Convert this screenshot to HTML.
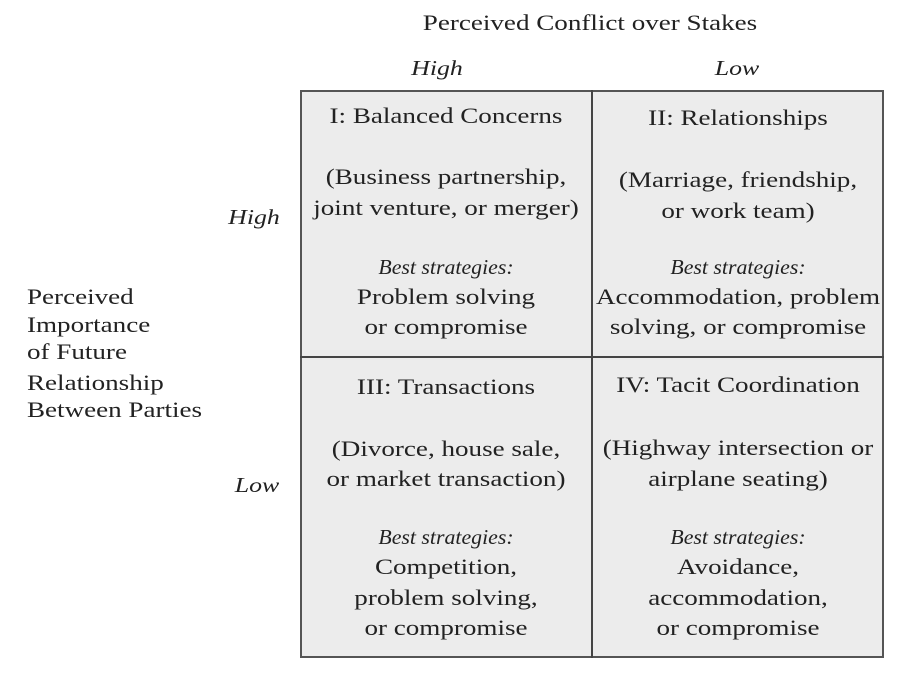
<!DOCTYPE html>
<html><head><style>
body{margin:0;width:908px;height:676px;background:#fff;position:relative;overflow:hidden;font-family:"Liberation Serif",serif;color:#222;}
.t{position:absolute;height:24px;line-height:24px;font-size:22px;white-space:nowrap;transform-origin:left center;transform:scaleX(1.23);}
.c{transform-origin:center center;transform:translateX(-50%) scaleX(1.23);}
.i{font-style:italic;font-size:21px;}
.b{transform:translateX(-50%) scaleX(1.04);}
.box{position:absolute;left:300px;top:90px;width:584px;height:568px;border:2px solid #555;background:#ececec;box-sizing:border-box;}
.v{position:absolute;left:591px;top:90px;width:2px;height:568px;background:#444;}
.h{position:absolute;left:300px;top:356px;width:584px;height:2px;background:#444;}
</style></head><body>
<div class="box"></div><div class="v"></div><div class="h"></div>
<div class="t c" style="left:590px;top:11px">Perceived Conflict over Stakes</div>
<div class="t c i" style="left:437px;top:56px">High</div>
<div class="t c i" style="left:737px;top:56px">Low</div>
<div class="t c i" style="left:254px;top:205px">High</div>
<div class="t c i" style="left:257px;top:473px">Low</div>
<div class="t" style="left:27px;top:285px">Perceived</div>
<div class="t" style="left:27px;top:313px">Importance</div>
<div class="t" style="left:27px;top:340px">of Future</div>
<div class="t" style="left:27px;top:371px">Relationship</div>
<div class="t" style="left:27px;top:398px">Between Parties</div>

<div class="t c" style="left:446px;top:104px">I: Balanced Concerns</div>
<div class="t c" style="left:446px;top:165px">(Business partnership,</div>
<div class="t c" style="left:446px;top:196px">joint venture, or merger)</div>
<div class="t c i b" style="left:446px;top:255px">Best strategies:</div>
<div class="t c" style="left:446px;top:285px">Problem solving</div>
<div class="t c" style="left:446px;top:315px">or compromise</div>

<div class="t c" style="left:738px;top:106px">II: Relationships</div>
<div class="t c" style="left:738px;top:168px">(Marriage, friendship,</div>
<div class="t c" style="left:738px;top:199px">or work team)</div>
<div class="t c i b" style="left:738px;top:255px">Best strategies:</div>
<div class="t c" style="left:738px;top:285px">Accommodation, problem</div>
<div class="t c" style="left:738px;top:315px">solving, or compromise</div>

<div class="t c" style="left:446px;top:375px">III: Transactions</div>
<div class="t c" style="left:446px;top:437px">(Divorce, house sale,</div>
<div class="t c" style="left:446px;top:467px">or market transaction)</div>
<div class="t c i b" style="left:446px;top:525px">Best strategies:</div>
<div class="t c" style="left:446px;top:555px">Competition,</div>
<div class="t c" style="left:446px;top:586px">problem solving,</div>
<div class="t c" style="left:446px;top:616px">or compromise</div>

<div class="t c" style="left:738px;top:373px">IV: Tacit Coordination</div>
<div class="t c" style="left:738px;top:436px">(Highway intersection or</div>
<div class="t c" style="left:738px;top:467px">airplane seating)</div>
<div class="t c i b" style="left:738px;top:525px">Best strategies:</div>
<div class="t c" style="left:738px;top:555px">Avoidance,</div>
<div class="t c" style="left:738px;top:586px">accommodation,</div>
<div class="t c" style="left:738px;top:616px">or compromise</div>
</body></html>
